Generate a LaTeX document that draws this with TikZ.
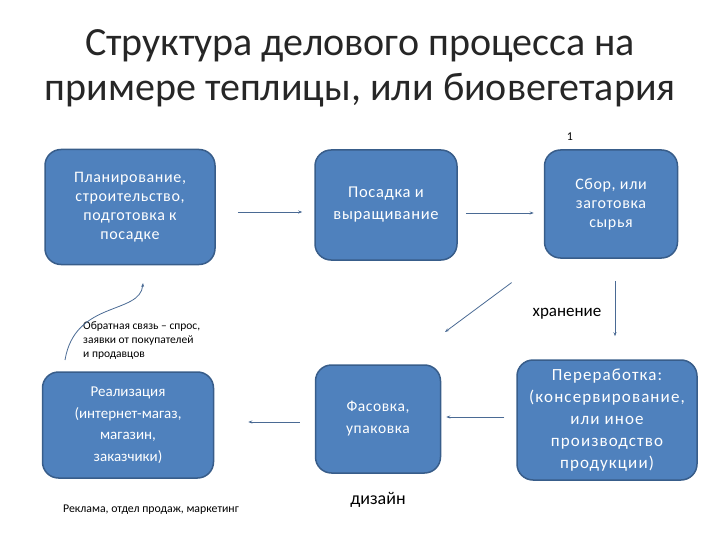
\documentclass[tikz,border=0pt]{standalone}
\usepackage{fontspec}
\setmainfont{Carlito}
\newfontfamily\spacedfont[LetterSpace=4]{Carlito}
\newfontfamily\widefont[LetterSpace=6.5]{Carlito}
\usepackage{tikz}
\usetikzlibrary{arrows.meta, positioning}

\definecolor{boxfill}{HTML}{4F81BD}
\definecolor{boxline}{HTML}{385D8A}
\definecolor{arrowline}{HTML}{4A6A94}

\begin{document}
\begin{tikzpicture}[
        x=1pt, y=-1pt,
        stage/.style={
            rectangle,
            draw=boxline,
            line width=1.5pt,
            fill=boxfill,
            rounded corners=16pt,
            inner sep=0pt,
            align=center,
            text=white,
            font=\spacedfont\fontsize{16}{19}\selectfont
        },
        note/.style={
            align=left,
            inner sep=0pt,
            font=\fontsize{11.5}{14}\selectfont
        },
        arrow/.style={-{Stealth[length=4pt, width=3pt]}, line width=0.8pt, draw=arrowline}
    ]

    \useasboundingbox (0,0) rectangle (720,540);

    % title
    \node (title) at (360,68) [align=center, text=black!85,
        font=\fontsize{40}{45}\selectfont] {Структура делового процесса на\\примере теплицы, или биовегетария};
    \node (num) at (570,137) [font=\fontsize{12}{14}\selectfont] {1};

    % stages
    \node (plan) at (130,207) [stage, minimum width=170pt, minimum height=115pt] {Планирование,\\строительство,\\подготовка к\\посадке\vphantom{p}};
    \node (grow) at (386,205) [stage, minimum width=142pt, minimum height=110pt,
        font=\spacedfont\fontsize{16.5}{22}\selectfont] {Посадка и\\выращивание};
    \node (harvest) at (611,204) [stage, minimum width=133pt, minimum height=108pt] {Сбор, или\\заготовка\\сырья};
    \node (process) at (607,420) [stage, minimum width=180pt, minimum height=120pt,
        font=\widefont\fontsize{17}{22}\selectfont] {Переработка:\\(консервирование,\\или иное\\производство\\продукции)};
    \node (pack) at (378,419) [stage, minimum width=125pt, minimum height=108pt,
        font=\spacedfont\fontsize{15.5}{22}\selectfont] {Фасовка,\\упаковка};
    \node (sale) at (128,425) [stage, minimum width=171pt, minimum height=106pt,
        font=\fontsize{15}{21.5}\selectfont] {Реализация\\(интернет-магаз,\\магазин,\\заказчики)};

    % labels
    \node (storage) at (567,314) [font=\fontsize{17}{19}\selectfont] {хранение};
    \node (feedback) at (83,341) [note, anchor=west] {Обратная связь -- спрос,\\заявки от покупателей\\и продавцов};
    \node (promo) at (151,510) [font=\fontsize{11.8}{14}\selectfont] {Реклама, отдел продаж, маркетинг};
    \node (design) at (378,500) [font=\fontsize{18}{20}\selectfont] {дизайн};

    % free ends
    \coordinate (diagEnd) at (445,332);
    \coordinate (fbStart) at (65,360);
    \coordinate (fbEnd) at (143,283);

    % connectors
    \draw [arrow, shorten <=22pt, shorten >=12pt] ([yshift=-5pt]plan.east) -- ([yshift=-5pt]plan.east -| grow.west);
    \draw [arrow, shorten <=8pt, shorten >=10pt] ([yshift=-8pt]grow.east) -- ([yshift=-8pt]grow.east -| harvest.west);
    \draw [arrow, shorten <=22pt, shorten >=23pt] ([xshift=4pt]harvest.south) -- ([xshift=4pt]harvest.south |- process.north);
    \draw [arrow, shorten <=40pt] (harvest.south west) -- (diagEnd);
    \draw [arrow, shorten <=12pt, shorten >=5pt] ([yshift=3pt]process.west) -- ([yshift=3pt]process.west -| pack.east);
    \draw [arrow, shorten <=15pt, shorten >=34pt] ([yshift=-3pt]pack.west) -- ([yshift=-3pt]pack.west -| sale.east);
    \draw [arrow] (fbStart) .. controls (75,300) and (140,315) .. (fbEnd);

\end{tikzpicture}
\end{document}
